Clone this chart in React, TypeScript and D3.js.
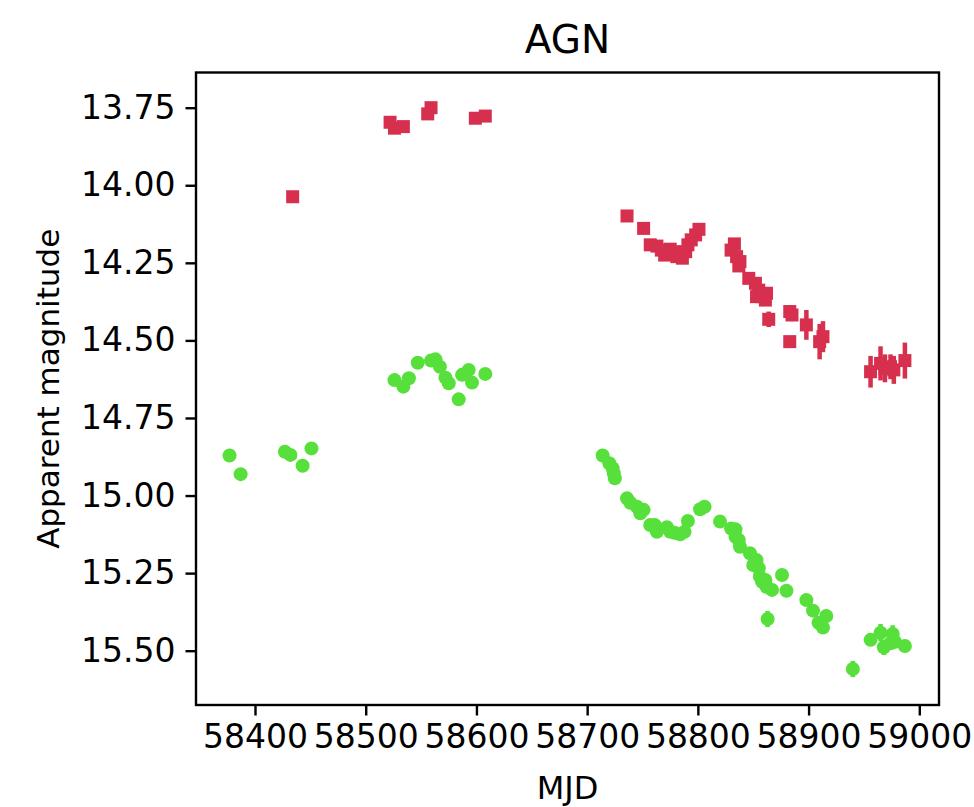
import * as d3 from 'd3';
import React, { useRef, useEffect } from 'react';

// r-band (red squares)
const redMjd = [58434, 58522, 58526, 58534, 58556, 58559, 58599, 58608,
  58736, 58751, 58757, 58763, 58767, 58770, 58775, 58778, 58781, 58786, 58789, 58791, 58794, 58798, 58801,
  58833, 58830, 58835, 58838, 58837, 58846, 58852, 58855, 58853, 58858, 58861, 58862, 58864,
  58883, 58885, 58883, 58898, 58910, 58913,
  58956, 58965, 58969, 58974, 58977, 58987];
const redMag = [14.037, 13.797, 13.816, 13.811, 13.770, 13.750, 13.784, 13.777,
  14.099, 14.139, 14.192, 14.196, 14.209, 14.225, 14.206, 14.214, 14.230, 14.235, 14.214, 14.192, 14.176, 14.160, 14.142,
  14.189, 14.209, 14.230, 14.246, 14.260, 14.300, 14.316, 14.338, 14.359, 14.359, 14.370, 14.348, 14.432,
  14.407, 14.418, 14.504, 14.450, 14.504, 14.488,
  14.601, 14.574, 14.590, 14.585, 14.595, 14.565];
const redErr = [0.005, 0.006, 0.006, 0.006, 0.006, 0.006, 0.006, 0.006,
  0.008, 0.008, 0.008, 0.008, 0.01, 0.01, 0.01, 0.01, 0.01, 0.01, 0.01, 0.01, 0.01, 0.01, 0.01,
  0.012, 0.012, 0.012, 0.012, 0.012, 0.012, 0.012, 0.012, 0.015, 0.015, 0.015, 0.015, 0.025,
  0.02, 0.02, 0.015, 0.048, 0.057, 0.05,
  0.051, 0.055, 0.045, 0.04, 0.045, 0.058];

// g-band (green circles)
const greenMjd = [58377, 58387, 58427, 58432, 58443, 58451,
  58526, 58534, 58539, 58547, 58559, 58563, 58567, 58572, 58575, 58584, 58587, 58593, 58596, 58608,
  58714, 58720, 58723, 58724, 58725, 58736, 58739, 58745, 58748, 58751, 58757, 58761, 58763, 58772, 58775, 58779, 58784, 58788, 58791,
  58802, 58806, 58820, 58830, 58834, 58834, 58837, 58838, 58847, 58853, 58850, 58855, 58856, 58861, 58858, 58862, 58867,
  58876, 58880, 58863, 58898, 58904, 58909, 58913, 58916,
  58940, 58956, 58965, 58968, 58976, 58978, 58974, 58987];
const greenMag = [14.871, 14.931, 14.859, 14.869, 14.904, 14.848,
  14.628, 14.649, 14.622, 14.572, 14.565, 14.561, 14.585, 14.620, 14.638, 14.690, 14.611, 14.595, 14.636, 14.608,
  14.871, 14.896, 14.912, 14.928, 14.944, 15.009, 15.023, 15.036, 15.057, 15.046, 15.095, 15.095, 15.117, 15.102, 15.117, 15.120, 15.125, 15.117, 15.082,
  15.044, 15.036, 15.084, 15.106, 15.109, 15.133, 15.143, 15.165, 15.186, 15.208, 15.224, 15.234, 15.261, 15.272, 15.278, 15.294, 15.304,
  15.256, 15.307, 15.398, 15.337, 15.371, 15.410, 15.425, 15.388,
  15.559, 15.465, 15.442, 15.489, 15.446, 15.471, 15.476, 15.485];
const greenErr = [0.005, 0.005, 0.005, 0.005, 0.005, 0.005,
  0.005, 0.005, 0.005, 0.005, 0.005, 0.005, 0.005, 0.005, 0.005, 0.005, 0.005, 0.005, 0.005, 0.005,
  0.006, 0.006, 0.006, 0.006, 0.006, 0.006, 0.006, 0.006, 0.006, 0.006, 0.006, 0.006, 0.006, 0.006, 0.006, 0.006, 0.006, 0.006, 0.006,
  0.006, 0.006, 0.006, 0.008, 0.008, 0.008, 0.008, 0.008, 0.008, 0.008, 0.008, 0.008, 0.01, 0.01, 0.01, 0.01, 0.01,
  0.01, 0.01, 0.026, 0.01, 0.012, 0.015, 0.015, 0.015,
  0.026, 0.02, 0.028, 0.025, 0.028, 0.02, 0.02, 0.02];

const xTicks = [58400, 58500, 58600, 58700, 58800, 58900, 59000];
const yTicks = [13.75, 14.0, 14.25, 14.5, 14.75, 15.0, 15.25, 15.5];

const RED = '#d6304e';
const GREEN = '#57e03b';

function App() {
  const ref = useRef(null);

  useEffect(() => {
    const width = 974, height = 807;
    const margin = { top: 72.5, right: 35, bottom: 102, left: 196 };
    const w = width - margin.left - margin.right;
    const h = height - margin.top - margin.bottom;

    const svg = d3.select(ref.current).attr('width', width).attr('height', height);
    svg.selectAll('*').remove();
    svg.append('rect').attr('width', width).attr('height', height).attr('fill', 'white');

    const x = d3.scaleLinear().domain([58346.7, 59017.8]).range([0, w]);
    const y = d3.scaleLinear().domain([13.6366, 15.675]).range([0, h]);

    const g = svg.append('g').attr('transform', 'translate(' + margin.left + ',' + margin.top + ')');
    const font = 'DejaVu Sans, sans-serif';

    const red = redMjd.map((d, i) => ({ t: d, m: redMag[i], e: redErr[i] }));
    const green = greenMjd.map((d, i) => ({ t: d, m: greenMag[i], e: greenErr[i] }));

    // green: error bars then circles
    g.selectAll('.gerr').data(green).enter().append('line')
      .attr('x1', d => x(d.t)).attr('x2', d => x(d.t))
      .attr('y1', d => y(d.m - d.e)).attr('y2', d => y(d.m + d.e))
      .attr('stroke', GREEN).attr('stroke-width', 4.5);
    g.selectAll('.gpt').data(green).enter().append('circle')
      .attr('cx', d => x(d.t)).attr('cy', d => y(d.m)).attr('r', 7)
      .attr('fill', GREEN);

    // red: error bars then squares
    g.selectAll('.rerr').data(red).enter().append('line')
      .attr('x1', d => x(d.t)).attr('x2', d => x(d.t))
      .attr('y1', d => y(d.m - d.e)).attr('y2', d => y(d.m + d.e))
      .attr('stroke', RED).attr('stroke-width', 4.5);
    const s = 13;
    g.selectAll('.rpt').data(red).enter().append('rect')
      .attr('x', d => x(d.t) - s / 2).attr('y', d => y(d.m) - s / 2)
      .attr('width', s).attr('height', s)
      .attr('fill', RED);

    // frame
    g.append('rect').attr('width', w).attr('height', h)
      .attr('fill', 'none').attr('stroke', 'black').attr('stroke-width', 2.4);

    const xAxis = g.append('g').attr('transform', 'translate(0,' + h + ')')
      .call(d3.axisBottom(x).tickValues(xTicks).tickFormat(d3.format('d')).tickSize(10.5).tickPadding(9));
    const yAxis = g.append('g')
      .call(d3.axisLeft(y).tickValues(yTicks).tickFormat(d3.format('.2f')).tickSize(10.5).tickPadding(10));
    [xAxis, yAxis].forEach(a => {
      a.select('.domain').remove();
      a.selectAll('line').attr('stroke', 'black').attr('stroke-width', 2.4);
      a.selectAll('text').attr('fill', 'black').style('font-family', font).style('font-size', '33px');
    });

    svg.append('text')
      .attr('x', margin.left + w / 2).attr('y', 53)
      .attr('text-anchor', 'middle')
      .style('font-family', font).style('font-size', '39px')
      .text('AGN');

    svg.append('text')
      .attr('x', margin.left + w / 2).attr('y', 799)
      .attr('text-anchor', 'middle')
      .style('font-family', font).style('font-size', '32px')
      .text('MJD');

    svg.append('text')
      .attr('transform', 'translate(59,' + (margin.top + h / 2) + ') rotate(-90)')
      .attr('text-anchor', 'middle')
      .style('font-family', font).style('font-size', '31px')
      .text('Apparent magnitude');
  }, []);

  return (
    <div style={{ position: 'absolute', left: 0, top: 0 }}>
      <svg ref={ref}></svg>
    </div>
  );
}

export default App;
